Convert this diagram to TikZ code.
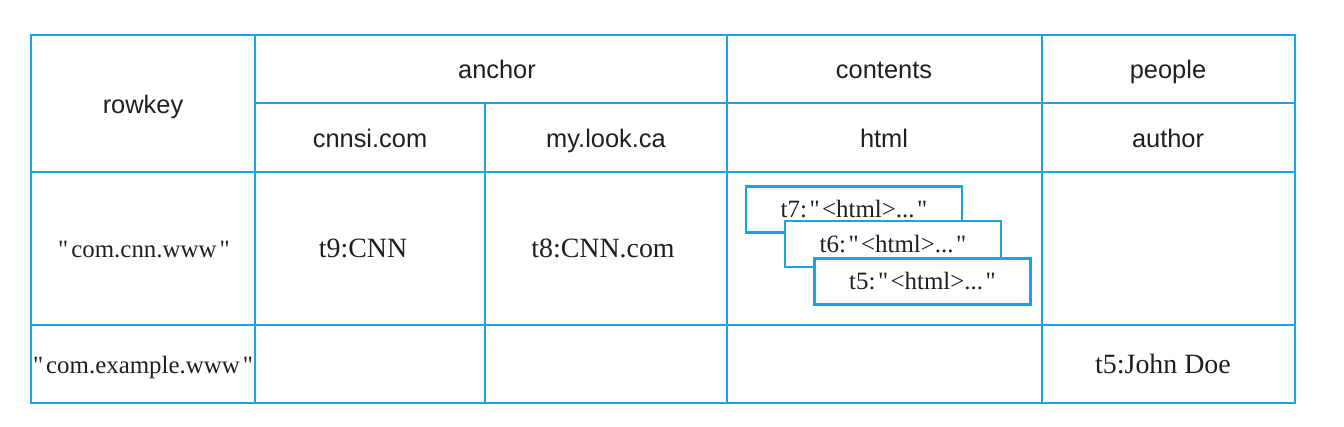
\documentclass[tikz,border=0pt]{standalone}
\usepackage{fontspec}
\setmainfont{Liberation Serif}
\newfontfamily\serfont{Liberation Serif}
\newfontfamily\hdrfont{Liberation Sans}
\definecolor{tblue}{RGB}{30,162,222}
\newcommand{\sq}{\char"22\relax}
\begin{document}
\begin{tikzpicture}[x=1bp,y=-1bp,
  grid/.style={draw=tblue,line width=2.6bp},
  hdr/.style={anchor=mid,font=\hdrfont\fontsize{25.5}{30}\selectfont,text=black!88},
  cell/.style={anchor=mid,font=\serfont\fontsize{28}{32}\selectfont,text=black!88},
  keycell/.style={anchor=mid,font=\serfont\fontsize{25}{30}\selectfont,text=black!88},
  verbox/.style={draw=tblue,line width=2.4bp,fill=white,minimum width=216bp,minimum height=46bp,inner sep=0pt,font=\serfont\fontsize{25}{30}\selectfont,text=black!88}]
\useasboundingbox (0,0) rectangle (1344,426);
% table lines
\draw[grid] (31,35) rectangle (1295,403);
\draw[grid] (255,103) -- (1295,103);
\draw[grid] (31,172) -- (1295,172);
\draw[grid] (31,325) -- (1295,325);
\draw[grid] (255,35) -- (255,403);
\draw[grid] (485,103) -- (485,403);
\draw[grid] (727,35) -- (727,403);
\draw[grid] (1042,35) -- (1042,403);
% headers
\node[hdr] (rowkey) at (143,111) {rowkey};
\node[hdr] (anchor) at (497,76) {anchor};
\node[hdr] (contents) at (884,76) {contents};
\node[hdr] (people) at (1168,76) {people};
\node[hdr] (cnnsi) at (370,145) {cnnsi.com};
\node[hdr] (mylook) at (606,145) {my.look.ca};
\node[hdr] (html) at (884,145) {html};
\node[hdr] (author) at (1168,145) {author};
% row 1
\node[keycell] (rk1) at (144,255) {\sq\hspace{0.12em}com.cnn.www\hspace{0.12em}\sq};
\node[cell] (c1) at (363,255) {t9:CNN};
\node[cell] (c2) at (603,255) {t8:CNN.com};
\node[verbox] (t7) at (854,209.5) {t7:\hspace{0.1em}\sq\hspace{0.1em}<html>...\hspace{0.1em}\sq};
\node[verbox] (t6) at (893,244) {t6:\hspace{0.1em}\sq\hspace{0.1em}<html>...\hspace{0.1em}\sq};
\node[verbox] (t5) at (922.5,281.5) {t5:\hspace{0.1em}\sq\hspace{0.1em}<html>...\hspace{0.1em}\sq};
% row 2
\node[keycell] (rk2) at (143,371) {\sq\hspace{0.12em}com.example.www\hspace{0.12em}\sq};
\node[cell] (jd) at (1163,371) {t5:John Doe};
\end{tikzpicture}
\end{document}
